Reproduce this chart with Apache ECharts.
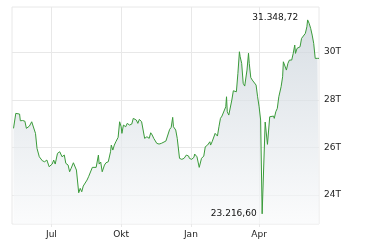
<!DOCTYPE html>
<html>
<head>
<meta charset="utf-8">
<script src="https://cdn.jsdelivr.net/npm/echarts@6/dist/echarts.min.js"></script>
<style>
html,body{margin:0;padding:0;background:#fff;}
#chart{width:380px;height:250px;}
</style>
</head>
<body>
<div id="chart"></div>
<script>
// Days counted from the axis start date (10 May 2024)
const startDate = [2024, 4, 10];
const endDate = [2025, 5, 19];
const dayOffset = [
  2, 5, 7, 10, 11, 14, 17, 19, 23, 26, 28, 31, 33, 36, 40, 43, 46, 49, 53, 55,
  57, 60, 63, 66, 69, 71, 74, 76, 78, 81, 83, 85, 88, 90, 92, 94, 96, 99, 101, 103,
  106, 108, 111, 114, 115, 117, 119, 122, 124, 127, 130, 131, 133, 135, 137, 138, 140, 142, 144, 145,
  147, 150, 152, 155, 158, 160, 161, 164, 166, 168, 171, 173, 175, 178, 181, 183, 185, 187, 189, 191,
  194, 197, 199, 203, 205, 208, 210, 212, 213, 216, 218, 221, 224, 227, 230, 233, 234, 237, 240, 241,
  244, 247, 250, 253, 255, 258, 261, 262, 264, 266, 268, 270, 271, 273, 275, 277, 279, 282, 283, 284,
  286, 288, 290, 292, 294, 296, 298, 300, 301, 303, 305, 307, 308, 310, 312, 313, 315, 317, 319, 322,
  324, 326, 328, 330, 334, 337, 340, 342, 345, 346, 348, 350, 352, 355, 357, 358, 360, 362, 364, 366,
  369, 371, 373, 374, 376, 378, 380, 382, 384, 387, 389, 390, 392, 394, 396, 398, 400, 402, 403, 405
];
const indexValues = [
  26801, 27430, 27455, 27400, 27119, 27130, 27100, 26801, 26897, 27077, 27010, 26591, 25962, 25610, 25442, 25400, 25472, 25191, 25304, 25472,
  25304, 25752, 25820, 25610, 25681, 25333, 25262, 24981, 25124, 25358, 25358, 25052, 24100, 24285, 24142, 24381, 24327, 24633, 24771, 24843,
  25165, 25190, 25165, 25681, 25304, 25388, 24981, 25262, 25358, 25400, 25820, 26100, 25891, 26100, 26239, 26310, 26423, 27077, 26868, 26591,
  26939, 26868, 27010, 26939, 26981, 27220, 27287, 27149, 27010, 27178, 27077, 27149, 26381, 26449, 26381, 26616, 26520, 26381, 26449, 26172,
  26142, 26172, 26239, 26268, 26310, 26759, 26843, 27262, 26868, 26730, 26381, 25543, 25501, 25543, 25681, 25639, 25543, 25501, 25585, 25723,
  25610, 25165, 25543, 25639, 26029, 26100, 26239, 26100, 26239, 26172, 26591, 26658, 26478, 26868, 27220, 27316, 27287, 27706, 28126, 27497,
  27358, 27430, 27987, 28377, 28407, 28335, 29107, 30013, 29803, 29526, 28688, 28574, 28616, 29245, 29950, 29526, 28931, 28826, 28826, 28616,
  28126, 27706, 27149, 23216.60, 27065, 26130, 27287, 27262, 27316, 27220, 27497, 27639, 28126, 28545, 28964, 29593, 29526, 29245, 29526, 29665,
  29665, 29945, 30294, 29945, 30155, 30084, 30222, 30574, 30642, 30784, 31061, 31348.72, 31203, 30994, 30713, 30365, 29736, 29665, 29736, 29736
];
const yTicks = [24000, 26000, 28000, 30000];
const yMin = 22790;
const yMax = 31890;
const xTickDates = [[2024, 6, 1], [2024, 9, 1], [2025, 0, 1], [2025, 3, 1]];
const monthNames = ['Jan', 'Feb', 'Mär', 'Apr', 'Mai', 'Jun', 'Jul', 'Aug', 'Sep', 'Okt', 'Nov', 'Dez'];

const DAY = 86400000;
const t0 = Date.UTC(startDate[0], startDate[1], startDate[2]);
const tEnd = Date.UTC(endDate[0], endDate[1], endDate[2]);
const seriesData = dayOffset.map((d, i) => [t0 + d * DAY, indexValues[i]]);
const xTicks = xTickDates.map(a => Date.UTC(a[0], a[1], a[2]));

function deFormat(v) {
  const fixed = Number(v).toFixed(2);
  const parts = fixed.split('.');
  const intPart = parts[0].replace(/\B(?=(\d{3})+(?!\d))/g, '.');
  return intPart + ',' + parts[1];
}

const FONT = 'DejaVu Sans';
const GRID_COLOR = '#e8e8e8';

const chart = echarts.init(document.getElementById('chart'), null, {renderer: 'canvas'});
chart.setOption({
  animation: false,
  backgroundColor: '#ffffff',
  grid: {
    left: 12, right: 61, top: 7, bottom: 26,
    show: true, borderColor: GRID_COLOR, borderWidth: 1, backgroundColor: 'transparent'
  },
  xAxis: {
    type: 'value',
    min: t0,
    max: tEnd,
    axisLine: {show: false},
    axisTick: {show: true, length: 3, lineStyle: {color: GRID_COLOR}, customValues: xTicks},
    splitLine: {show: true, lineStyle: {color: GRID_COLOR, width: 1}},
    axisLabel: {
      customValues: xTicks,
      color: '#222',
      fontFamily: FONT,
      fontSize: 9,
      margin: 6,
      formatter: function (v) { return monthNames[new Date(v).getUTCMonth()]; }
    }
  },
  yAxis: {
    type: 'value',
    position: 'right',
    min: yMin,
    max: yMax,
    axisLine: {show: false},
    axisTick: {show: false, customValues: yTicks},
    splitLine: {show: true, lineStyle: {color: GRID_COLOR, width: 1}},
    axisLabel: {
      customValues: yTicks,
      color: '#222',
      fontFamily: FONT,
      fontSize: 9,
      margin: 5,
      formatter: function (v) { return Math.round(v / 1000) + 'T'; }
    }
  },
  series: [{
    type: 'line',
    data: seriesData,
    showSymbol: false,
    symbol: 'none',
    lineStyle: {color: '#3a9b3a', width: 1},
    itemStyle: {color: '#3a9b3a'},
    areaStyle: {
      color: new echarts.graphic.LinearGradient(0, 0, 0, 1, [
        {offset: 0, color: '#c8d1d9'},
        {offset: 1, color: '#f9fafb'}
      ])
    },
    markPoint: {
      symbol: 'circle',
      symbolSize: 1,
      itemStyle: {color: 'rgba(0,0,0,0)'},
      label: {
        show: true,
        position: 'left',
        distance: 5,
        color: '#111',
        fontFamily: FONT,
        fontSize: 9,
        formatter: function (p) { return deFormat(p.value); }
      },
      data: [
        {type: 'max', label: {distance: 9, offset: [0, -2]}},
        {type: 'min'}
      ]
    }
  }]
});
</script>
</body>
</html>
